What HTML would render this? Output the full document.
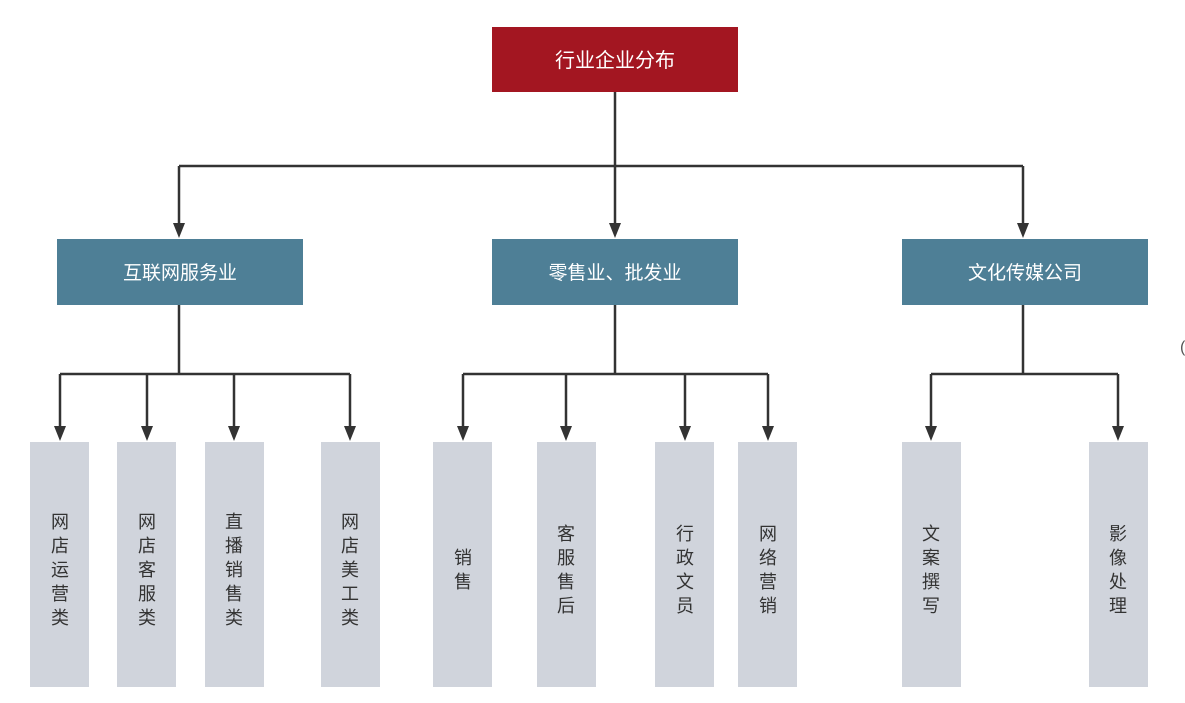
<!DOCTYPE html>
<html><head><meta charset="utf-8"><style>
html,body{margin:0;padding:0;background:#fff;}
svg{display:block}
text{font-family:"Liberation Sans","Noto Sans CJK SC",sans-serif;}
</style></head><body>
<svg width="1185" height="703" viewBox="0 0 1185 703" xmlns="http://www.w3.org/2000/svg">
<g stroke="#333" stroke-width="2.5" fill="none">
<path d="M615,92 V166 M179,166 H1023"/>
<path d="M179,166 V226 M615,166 V226 M1023,166 V226"/>
<path d="M179,305 V374 M60,374 H350"/>
<path d="M60,374 V428 M147,374 V428 M234,374 V428 M350,374 V428"/>
<path d="M615,305 V374 M463,374 H768"/>
<path d="M463,374 V428 M566,374 V428 M685,374 V428 M768,374 V428"/>
<path d="M1023,305 V374 M931,374 H1118"/>
<path d="M931,374 V428 M1118,374 V428"/>
</g>
<g fill="#333">
<path d="M173,223 h12 l-6,15 z"/><path d="M609,223 h12 l-6,15 z"/><path d="M1017,223 h12 l-6,15 z"/>
<path d="M54,426 h12 l-6,15 z"/><path d="M141,426 h12 l-6,15 z"/><path d="M228,426 h12 l-6,15 z"/><path d="M344,426 h12 l-6,15 z"/>
<path d="M457,426 h12 l-6,15 z"/><path d="M560,426 h12 l-6,15 z"/><path d="M679,426 h12 l-6,15 z"/><path d="M762,426 h12 l-6,15 z"/>
<path d="M925,426 h12 l-6,15 z"/><path d="M1112,426 h12 l-6,15 z"/>
</g>
<rect x="492" y="27" width="246" height="65" fill="#a31621"/>
<text x="615" y="67" fill="#fff" font-size="20" text-anchor="middle">行业企业分布</text>
<g fill="#4e7f96">
<rect x="57" y="239" width="246" height="66"/>
<rect x="492" y="239" width="246" height="66"/>
<rect x="902" y="239" width="246" height="66"/>
</g>
<g fill="#fff" font-size="19" text-anchor="middle">
<text x="180" y="279">互联网服务业</text>
<text x="615" y="279">零售业、批发业</text>
<text x="1025" y="279">文化传媒公司</text>
</g>
<g fill="#d0d4dc">
<rect x="30" y="442" width="59" height="245"/>
<rect x="117" y="442" width="59" height="245"/>
<rect x="205" y="442" width="59" height="245"/>
<rect x="321" y="442" width="59" height="245"/>
<rect x="433" y="442" width="59" height="245"/>
<rect x="537" y="442" width="59" height="245"/>
<rect x="655" y="442" width="59" height="245"/>
<rect x="738" y="442" width="59" height="245"/>
<rect x="902" y="442" width="59" height="245"/>
<rect x="1089" y="442" width="59" height="245"/>
</g>
<g fill="#333" font-size="18" text-anchor="middle">
<text x="60" y="528">网</text><text x="60" y="552">店</text><text x="60" y="576">运</text><text x="60" y="600">营</text><text x="60" y="624">类</text>
<text x="147" y="528">网</text><text x="147" y="552">店</text><text x="147" y="576">客</text><text x="147" y="600">服</text><text x="147" y="624">类</text>
<text x="234" y="528">直</text><text x="234" y="552">播</text><text x="234" y="576">销</text><text x="234" y="600">售</text><text x="234" y="624">类</text>
<text x="350" y="528">网</text><text x="350" y="552">店</text><text x="350" y="576">美</text><text x="350" y="600">工</text><text x="350" y="624">类</text>
<text x="463" y="564">销</text><text x="463" y="588">售</text>
<text x="566" y="540">客</text><text x="566" y="564">服</text><text x="566" y="588">售</text><text x="566" y="612">后</text>
<text x="685" y="540">行</text><text x="685" y="564">政</text><text x="685" y="588">文</text><text x="685" y="612">员</text>
<text x="768" y="540">网</text><text x="768" y="564">络</text><text x="768" y="588">营</text><text x="768" y="612">销</text>
<text x="931" y="540">文</text><text x="931" y="564">案</text><text x="931" y="588">撰</text><text x="931" y="612">写</text>
<text x="1118" y="540">影</text><text x="1118" y="564">像</text><text x="1118" y="588">处</text><text x="1118" y="612">理</text>
</g>
<text x="1180" y="352" fill="#555" font-size="16">(</text>
</svg>
</body></html>
